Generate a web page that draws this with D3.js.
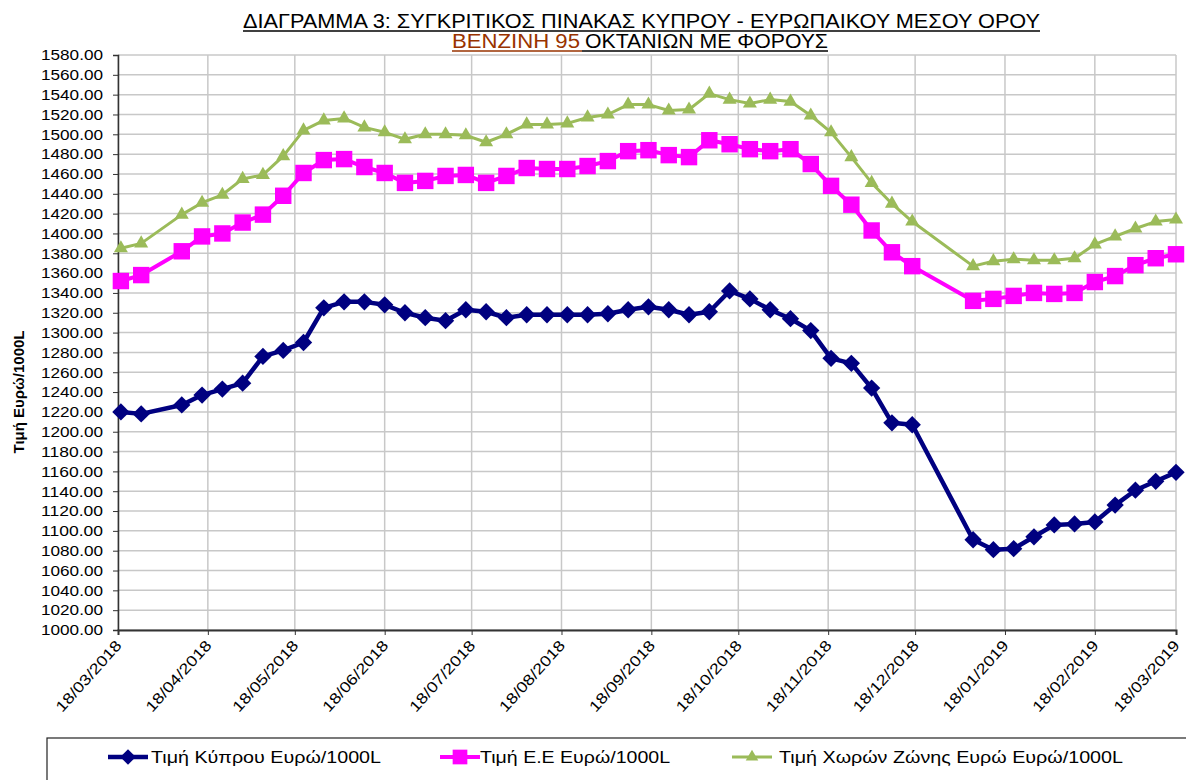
<!DOCTYPE html>
<html>
<head>
<meta charset="utf-8">
<script src="https://cdn.jsdelivr.net/npm/d3@7"></script>
<style>
  body { margin: 0; background: #fff; }
  text { font-family: "Liberation Sans", Arial, sans-serif; }
</style>
</head>
<body>
<svg id="chart" width="1186" height="780"></svg>
<script>
// weekly dates (Mondays)
let dates = [
    '19/03/2018', '26/03/2018', '09/04/2018', '16/04/2018', '23/04/2018', '30/04/2018',
    '07/05/2018', '14/05/2018', '21/05/2018', '28/05/2018', '04/06/2018', '11/06/2018',
    '18/06/2018', '25/06/2018', '02/07/2018', '09/07/2018', '16/07/2018', '23/07/2018',
    '30/07/2018', '06/08/2018', '13/08/2018', '20/08/2018', '27/08/2018', '03/09/2018',
    '10/09/2018', '17/09/2018', '24/09/2018', '01/10/2018', '08/10/2018', '15/10/2018',
    '22/10/2018', '29/10/2018', '05/11/2018', '12/11/2018', '19/11/2018', '26/11/2018',
    '03/12/2018', '10/12/2018', '17/12/2018', '07/01/2019', '14/01/2019', '21/01/2019',
    '28/01/2019', '04/02/2019', '11/02/2019', '18/02/2019', '25/02/2019', '04/03/2019',
    '11/03/2019', '18/03/2019'
];

let cyprus = [
    1220, 1218, 1227, 1237, 1243, 1249, 1276, 1282, 1290, 1325, 1331, 1331,
    1328, 1320, 1315, 1312, 1323, 1321, 1315, 1318, 1318, 1318, 1318, 1319,
    1323, 1326, 1323, 1318, 1321, 1342, 1334, 1323, 1314, 1302, 1274, 1269,
    1244, 1209, 1207, 1091, 1081, 1082, 1094, 1106, 1107, 1109, 1126, 1141,
    1150, 1159
];

let eu = [
    1352, 1358, 1382, 1397, 1400, 1411, 1419, 1438, 1461, 1474, 1475, 1467,
    1461, 1451, 1453, 1458, 1459, 1451, 1458, 1466, 1465, 1465, 1468, 1473,
    1483, 1484, 1479, 1477, 1494, 1490, 1485, 1483, 1485, 1470, 1448, 1429,
    1403, 1381, 1367, 1332, 1334, 1337, 1340, 1339, 1340, 1351, 1357, 1368,
    1375, 1379
];

let euroZone = [
    1385, 1390, 1419, 1431, 1439, 1455, 1459, 1478, 1504, 1514, 1516, 1507,
    1502, 1495, 1500, 1500, 1499, 1492, 1500, 1510, 1510, 1511, 1517, 1520,
    1530, 1530, 1524, 1525, 1541, 1535, 1531, 1535, 1533, 1519, 1502, 1477,
    1451, 1430, 1412, 1367, 1372, 1374, 1373, 1373, 1375, 1389, 1397, 1405,
    1412, 1414
];

let xTickLabels = [
    '18/03/2018', '18/04/2018', '18/05/2018', '18/06/2018', '18/07/2018',
    '18/08/2018', '18/09/2018', '18/10/2018', '18/11/2018', '18/12/2018',
    '18/01/2019', '18/02/2019', '18/03/2019'
];

let seriesNames = [
    'Τιμή Κύπρου Ευρώ/1000L',
    'Τιμή Ε.Ε Ευρώ/1000L',
    'Τιμή Χωρών Ζώνης Ευρώ Ευρώ/1000L'
];

let parse = d3.timeParse('%d/%m/%Y');

let svg = d3.select('#chart');

let x = d3
    .scaleTime()
    .domain([parse(xTickLabels[0]), parse(xTickLabels[xTickLabels.length - 1])])
    .range([118, 1176]);

let y = d3.scaleLinear().domain([1000, 1580]).range([630, 55]);

let yTicks = d3.range(1000, 1581, 20);
let xTicks = xTickLabels.map(parse);

// grid
svg.append('g')
    .selectAll('line')
    .data(yTicks)
    .enter()
    .append('line')
    .attr('x1', 118)
    .attr('x2', 1176)
    .attr('y1', d => y(d))
    .attr('y2', d => y(d))
    .attr('stroke', '#c8c8c8')
    .attr('stroke-width', 1.5);

svg.append('g')
    .selectAll('line')
    .data(xTicks)
    .enter()
    .append('line')
    .attr('x1', d => x(d))
    .attr('x2', d => x(d))
    .attr('y1', y(1580))
    .attr('y2', y(1000))
    .attr('stroke', '#c8c8c8')
    .attr('stroke-width', 1.5);

// axes
let yAxis = svg
    .append('g')
    .attr('transform', 'translate(118,0)')
    .call(d3.axisLeft(y).tickValues(yTicks).tickFormat(d3.format('.2f')).tickSize(5).tickPadding(10));

yAxis.select('.domain').attr('stroke', '#333').attr('stroke-width', 1.5);
yAxis.selectAll('.tick line').attr('stroke', '#333');
yAxis
    .selectAll('text')
    .attr('font-size', 15)
    .attr('font-family', '"Liberation Sans", Arial, sans-serif')
    .attr('fill', '#000')
    .attr('textLength', 62)
    .attr('lengthAdjust', 'spacingAndGlyphs');

let xAxis = svg
    .append('g')
    .attr('transform', 'translate(0,630)')
    .call(d3.axisBottom(x).tickValues(xTicks).tickSize(5).tickFormat(d3.timeFormat('%d/%m/%Y')));

xAxis.select('.domain').attr('stroke', '#333').attr('stroke-width', 2);
xAxis.selectAll('.tick line').attr('stroke', '#333');
xAxis
    .selectAll('text')
    .attr('font-size', 15)
    .attr('font-family', '"Liberation Sans", Arial, sans-serif')
    .attr('fill', '#000')
    .attr('text-anchor', 'end')
    .attr('dy', 0)
    .attr('y', 0)
    .attr('transform', 'translate(4,16) rotate(-48)')
    .attr('textLength', 90)
    .attr('lengthAdjust', 'spacingAndGlyphs');

// y axis title
svg.append('text')
    .attr('transform', 'translate(24,392) rotate(-90)')
    .attr('text-anchor', 'middle')
    .attr('font-size', 15)
    .attr('font-weight', 'bold')
    .text('Τιμή Ευρώ/1000L');

// title
let titleFont = '"Liberation Sans Narrow", "Arial Narrow", "Liberation Sans", sans-serif';
svg.append('text')
    .attr('x', 243)
    .attr('y', 28)
    .attr('font-size', 20)
    .attr('font-family', titleFont)
    .attr('textLength', 797)
    .attr('lengthAdjust', 'spacingAndGlyphs')
    .text('ΔΙΑΓΡΑΜΜΑ 3: ΣΥΓΚΡΙΤΙΚΟΣ ΠΙΝΑΚΑΣ ΚΥΠΡΟΥ - ΕΥΡΩΠΑΙΚΟΥ ΜΕΣΟΥ ΟΡΟΥ');
svg.append('line').attr('x1', 243).attr('x2', 1040).attr('y1', 31).attr('y2', 31)
    .attr('stroke', '#000').attr('stroke-width', 1.5);

svg.append('text')
    .attr('x', 452)
    .attr('y', 48)
    .attr('font-size', 20)
    .attr('font-family', titleFont)
    .attr('fill', '#993300')
    .attr('textLength', 128)
    .attr('lengthAdjust', 'spacingAndGlyphs')
    .text('ΒΕΝΖΙΝΗ 95');
svg.append('text')
    .attr('x', 585)
    .attr('y', 48)
    .attr('font-size', 20)
    .attr('font-family', titleFont)
    .attr('textLength', 243)
    .attr('lengthAdjust', 'spacingAndGlyphs')
    .text('ΟΚΤΑΝΙΩΝ ΜΕ ΦΟΡΟΥΣ');
svg.append('line').attr('x1', 452).attr('x2', 582).attr('y1', 51).attr('y2', 51)
    .attr('stroke', '#993300').attr('stroke-width', 1.5);
svg.append('line').attr('x1', 582).attr('x2', 828).attr('y1', 51).attr('y2', 51)
    .attr('stroke', '#000').attr('stroke-width', 1.5);

// series
let series = [
    { name: seriesNames[0], values: cyprus, color: '#000080', width: 4.5, symbol: d3.symbolSquare, size: 150, rot: 45 },
    { name: seriesNames[1], values: eu, color: '#ff00ff', width: 4, symbol: d3.symbolSquare, size: 270, rot: 0 },
    { name: seriesNames[2], values: euroZone, color: '#9bbb59', width: 3, symbol: d3.symbolTriangle, size: 85, rot: 0 }
];

let line = d3
    .line()
    .x(d => x(d.date))
    .y(d => y(d.value));

series.forEach(s => {
    let pts = s.values.map((v, i) => ({ date: parse(dates[i]), value: v }));

    svg.append('path')
        .datum(pts)
        .attr('fill', 'none')
        .attr('stroke', s.color)
        .attr('stroke-width', s.width)
        .attr('stroke-linejoin', 'round')
        .attr('d', line);

    svg.append('g')
        .selectAll('path')
        .data(pts)
        .enter()
        .append('path')
        .attr('d', d3.symbol().type(s.symbol).size(s.size))
        .attr('fill', s.color)
        .attr('transform', d => 'translate(' + x(d.date) + ',' + y(d.value) + ') rotate(' + s.rot + ')');
});

// legend
svg.append('rect')
    .attr('x', 47)
    .attr('y', 738)
    .attr('width', 1160)
    .attr('height', 60)
    .attr('fill', 'none')
    .attr('stroke', '#222')
    .attr('stroke-width', 1.2);

let legendPos = [
    { lx: 108, tx: 151, tw: 230 },
    { lx: 440, tx: 480, tw: 190 },
    { lx: 732, tx: 779, tw: 344 }
];

series.forEach((s, i) => {
    let p = legendPos[i];
    let g = svg.append('g');
    g.append('line')
        .attr('x1', p.lx)
        .attr('x2', p.lx + 40)
        .attr('y1', 757)
        .attr('y2', 757)
        .attr('stroke', s.color)
        .attr('stroke-width', s.width);
    g.append('path')
        .attr('d', d3.symbol().type(s.symbol).size(s.size * 0.8))
        .attr('fill', s.color)
        .attr('transform', 'translate(' + (p.lx + 20) + ',757) rotate(' + s.rot + ')');
    g.append('text')
        .attr('x', p.tx)
        .attr('y', 763)
        .attr('font-size', 16)
        .attr('font-family', titleFont)
        .attr('textLength', p.tw)
        .attr('lengthAdjust', 'spacingAndGlyphs')
        .text(s.name);
});
</script>
</body>
</html>
